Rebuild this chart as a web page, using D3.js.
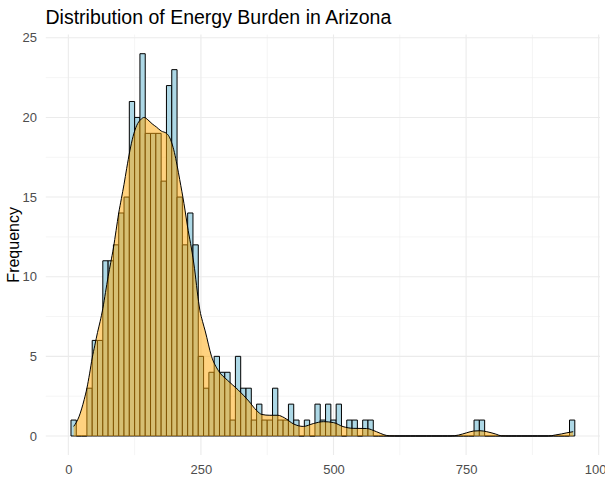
<!DOCTYPE html>
<html>
<head>
<meta charset="utf-8">
<script src="https://cdn.jsdelivr.net/npm/d3@7"></script>
<style>
  html, body { margin: 0; padding: 0; background: #fff; }
  svg { display: block; font-family: "Liberation Sans", Arial, sans-serif; }
</style>
</head>
<body>
<svg id="chart" width="605" height="482"></svg>
<script>
// ---- data ----
const binStart = 5;      // first bin edge
const binWidth = 10;     // histogram bin width
const binCounts = [
  1, 0, 0, 3, 6, 6, 11, 11, 12, 14,
  15, 21, 20, 24, 19, 19, 19, 16, 22, 23,
  15, 12, 14, 12, 5, 3, 4, 5, 4, 4,
  1, 5, 3, 3, 1, 2, 1, 1, 3, 1,
  1, 2, 1, 0, 1, 0, 2, 1, 2, 1,
  2, 0, 1, 1, 0, 1, 1, 0, 0, 0,
  0, 0, 0, 0, 0, 0, 0, 0, 0, 0,
  0, 0, 0, 0, 0, 0, 1, 1, 0, 0,
  0, 0, 0, 0, 0, 0, 0, 0, 0, 0,
  0, 0, 0, 0, 1
];
// density curve scaled to counts (x value, height in count units)
const densX = [10, 15, 20, 25, 30, 35, 40, 45, 50, 55, 60, 65, 70, 75, 80, 85, 90, 95, 100, 105,
  110, 116, 122, 129, 136, 143, 150, 158, 166, 175, 185, 190, 195, 200, 205, 210, 218, 226, 232, 238,
  243, 248, 253, 258, 270, 283, 300, 320, 340, 355, 365, 380, 395, 407, 425, 443, 462, 481, 500, 518,
  537, 562, 581, 595, 605, 620, 720, 736, 751, 764, 776, 789, 805, 817, 830, 905, 918, 930, 940, 952];
const densY = [0.6, 0.85, 1.2, 1.7, 2.3, 3.0, 3.9, 4.9, 5.7, 6.5, 7.2, 8.0, 9.0, 10.0, 10.9, 11.8, 12.9, 14.0, 14.9, 15.8,
  16.8, 17.9, 18.8, 19.5, 19.85, 20.0, 19.85, 19.6, 19.4, 19.15, 19.0, 18.8, 18.4, 17.8, 17.0, 16.1, 14.6, 12.9, 11.8, 10.5,
  9.1, 7.9, 7.2, 6.6, 5.0, 4.1, 3.5, 2.9, 2.2, 1.6, 1.35, 1.3, 1.3, 1.15, 0.75, 0.6, 0.78, 0.9, 0.84, 0.59,
  0.48, 0.47, 0.27, 0.08, 0.01, 0, 0, 0.06, 0.2, 0.31, 0.33, 0.27, 0.13, 0.01, 0, 0, 0.06, 0.13, 0.2, 0.27];
const xTicks = [0, 250, 500, 750, 1000];
const xMinor = [125, 375, 625, 875];
const yTicks = [0, 5, 10, 15, 20, 25];
const yMinor = [2.5, 7.5, 12.5, 17.5, 22.5];
const titleText = "Distribution of Energy Burden in Arizona";
const xTitle = "Energy Burden";
const yTitle = "Frequency";

// ---- layout ----
const svg = d3.select("#chart");
const panel = { left: 45.8, right: 600, top: 34.6, bottom: 455.1 };

const x = d3.scaleLinear().domain([-42.5, 1002.5]).range([panel.left, panel.right]);
const y = d3.scaleLinear().domain([-1.2, 25.2]).range([panel.bottom, panel.top]);

// grid
const grid = svg.append("g");
grid.selectAll("line.xminor").data(xMinor).join("line")
  .attr("x1", d => x(d)).attr("x2", d => x(d))
  .attr("y1", panel.top).attr("y2", panel.bottom)
  .attr("stroke", "#EBEBEB").attr("stroke-width", 0.55);
grid.selectAll("line.yminor").data(yMinor).join("line")
  .attr("y1", d => y(d)).attr("y2", d => y(d))
  .attr("x1", panel.left).attr("x2", panel.right)
  .attr("stroke", "#EBEBEB").attr("stroke-width", 0.55);
grid.selectAll("line.xmajor").data(xTicks).join("line")
  .attr("x1", d => x(d)).attr("x2", d => x(d))
  .attr("y1", panel.top).attr("y2", panel.bottom)
  .attr("stroke", "#EBEBEB").attr("stroke-width", 1.1);
grid.selectAll("line.ymajor").data(yTicks).join("line")
  .attr("y1", d => y(d)).attr("y2", d => y(d))
  .attr("x1", panel.left).attr("x2", panel.right)
  .attr("stroke", "#EBEBEB").attr("stroke-width", 1.1);

// histogram bars (paths so that zero-count bins still draw their outline)
const bins = binCounts.map((c, i) => ({ x0: binStart + i * binWidth, x1: binStart + (i + 1) * binWidth, c }));
svg.append("g").selectAll("path").data(bins).join("path")
  .attr("d", d => {
    const x0 = x(d.x0), x1 = x(d.x1), y0 = y(0), y1 = y(d.c);
    return `M${x0},${y0}V${y1}H${x1}V${y0}Z`;
  })
  .attr("fill", "#ADD8E6")
  .attr("stroke", "#000")
  .attr("stroke-width", 1);

// density
const dens = densX.map((v, i) => [v, densY[i]]);
const area = d3.area().x(d => x(d[0])).y0(y(0)).y1(d => y(d[1])).curve(d3.curveMonotoneX);
const line = d3.line().x(d => x(d[0])).y(d => y(d[1])).curve(d3.curveMonotoneX);
svg.append("path").datum(dens).attr("d", area)
  .attr("fill", "#FFA500").attr("fill-opacity", 0.5).attr("stroke", "none");
svg.append("path").datum(dens).attr("d", line)
  .attr("fill", "none").attr("stroke", "#000").attr("stroke-width", 1);

// axes (labels only, like theme_minimal)
const xAxis = svg.append("g").attr("transform", `translate(0,${panel.bottom})`)
  .call(d3.axisBottom(x).tickValues(xTicks).tickSize(0).tickPadding(10).tickFormat(d3.format("d")));
xAxis.select(".domain").remove();
xAxis.selectAll("text").attr("fill", "#4D4D4D").attr("font-size", "13px")
  .attr("font-family", "Liberation Sans, Arial, sans-serif");

const yAxis = svg.append("g").attr("transform", `translate(${panel.left},0)`)
  .call(d3.axisLeft(y).tickValues(yTicks).tickSize(0).tickPadding(8.8).tickFormat(d3.format("d")));
yAxis.select(".domain").remove();
yAxis.selectAll("text").attr("fill", "#4D4D4D").attr("font-size", "13px")
  .attr("font-family", "Liberation Sans, Arial, sans-serif");

// titles
svg.append("text").attr("x", 45.5).attr("y", 23.5)
  .attr("font-size", "19.5px").attr("fill", "#000").text(titleText);
svg.append("text").attr("x", (panel.left + panel.right) / 2).attr("y", 494)
  .attr("text-anchor", "middle").attr("font-size", "16px").attr("fill", "#000").text(xTitle);
svg.append("text")
  .attr("transform", `translate(18.5,${(panel.top + panel.bottom) / 2}) rotate(-90)`)
  .attr("text-anchor", "middle").attr("font-size", "16px").attr("fill", "#000").text(yTitle);
</script>
</body>
</html>
